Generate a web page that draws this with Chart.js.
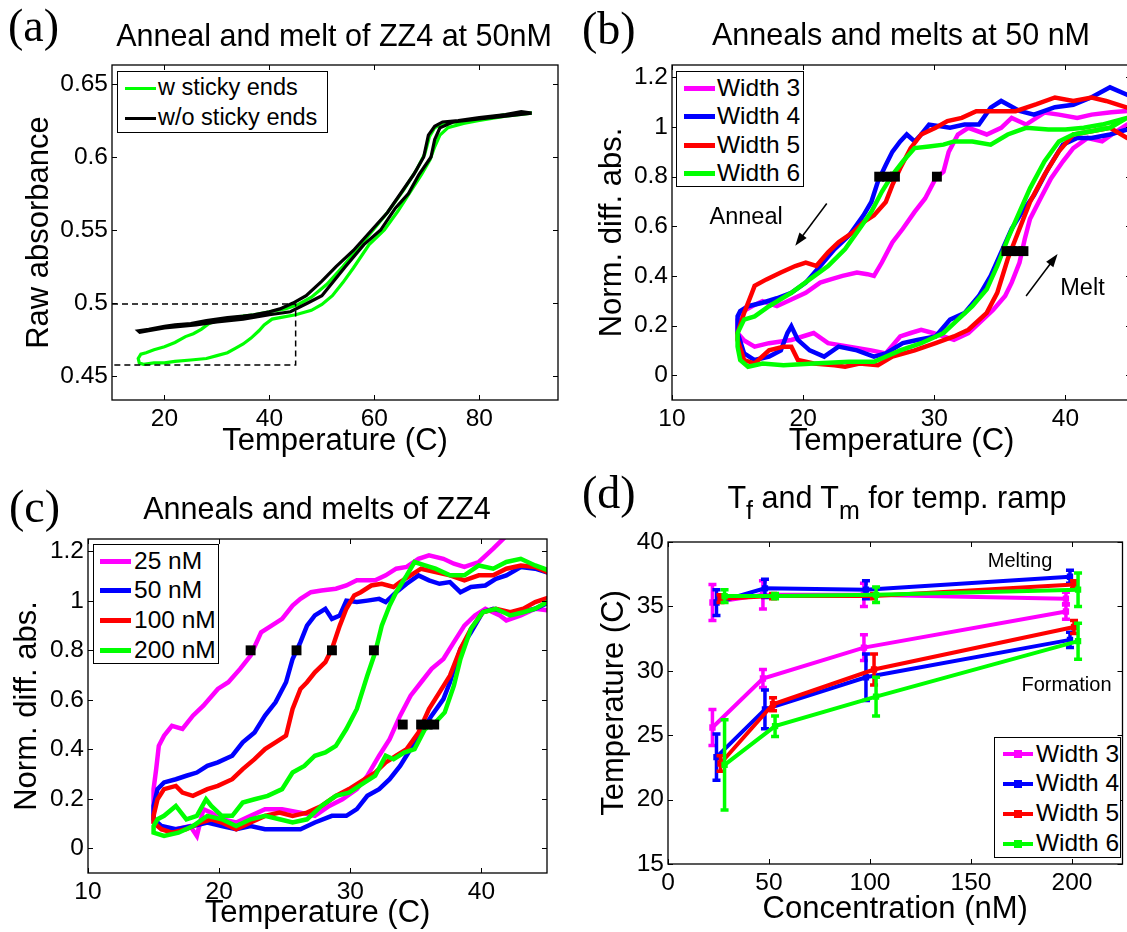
<!DOCTYPE html>
<html>
<head>
<meta charset="utf-8">
<script src="https://cdn.jsdelivr.net/npm/chart.js@4"></script>
<style>
html,body{margin:0;padding:0;overflow:hidden;background:#fff}
body{width:1127px;height:932px;position:relative;font-family:"Liberation Sans",Arial,sans-serif;color:#000}
.pane{position:absolute}
.lbl{position:absolute;font-family:"Liberation Serif","Times New Roman",serif;font-size:46px;line-height:1;white-space:nowrap}
.ttl{position:absolute;width:600px;font-size:30.5px;line-height:1;text-align:center;white-space:nowrap}
.ttl sub{font-size:25px;vertical-align:-0.45em;line-height:0}
.leg{position:absolute;border:1px solid #000;background:#fff;box-sizing:border-box}
.leg div{position:absolute;white-space:nowrap;line-height:1}
.note{position:absolute;white-space:nowrap;line-height:1;transform:translate(-50%,-50%)}
</style>
</head>
<body>
<div class="pane" id="pa"><canvas id="ca"></canvas></div>
<div class="pane" id="pb"><canvas id="cb"></canvas></div>
<div class="pane" id="pc"><canvas id="cc"></canvas></div>
<div class="pane" id="pd"><canvas id="cd"></canvas></div>

<div class="lbl" style="left:8px;top:3px">(a)</div>
<div class="lbl" style="left:582px;top:6px">(b)</div>
<div class="lbl" style="left:9px;top:484px">(c)</div>
<div class="lbl" style="left:582px;top:470px">(d)</div>

<div class="ttl" style="left:34px;top:20px">Anneal and melt of ZZ4 at 50nM</div>
<div class="ttl" style="left:601px;top:19px">Anneals and melts at 50 nM</div>
<div class="ttl" style="left:17px;top:493px">Anneals and melts of ZZ4</div>
<div class="ttl" style="left:597px;top:482px">T<sub>f</sub> and T<sub>m</sub> for temp. ramp</div>

<script>
// ---------- panel (a): raw absorbance, temperature vs absorbance (anneal then melt)
const aXTicks = [20, 40, 60, 80]
const aYTicks = [0.45, 0.5, 0.55, 0.6, 0.65]
const aYLabels = ['0.45', '0.5', '0.55', '0.6', '0.65']
const aNames = ['w sticky ends', 'w/o sticky ends']
const aSticky = [[90,.630],[85,.629],[80,.626],[76,.624],[73,.623],[71.5,.620],[70.5,.614],[69.6,.602],[68,.591],[65.5,.577],[62.5,.562],[60,.551],[57,.538],[54,.525],[51,.513],[48,.504],[45.5,.499],[43,.496],[40,.494],[37,.492],[35,.491],[32,.489],[30,.488],[28.5,.486],[27,.482],[25.5,.479],[24,.477],[22,.473],[20,.470],[18,.468],[16.5,.466],[15.5,.465],[15,.462],
  [15.2,.459],[16,.458],[18,.459],[20,.459],[22,.460],[25,.461],[28,.462],[30,.464],[32,.466],[33.5,.469],[35,.472],[36.5,.476],[38,.481],[39,.485],[40.5,.489],[42,.490],[45,.492],[48,.495],[50,.499],[52,.505],[54,.514],[56,.524],[59,.540],[61.9,.550],[64.5,.563],[67,.577],[69,.588],[70.6,.598],[71.5,.607],[72.5,.615],[74,.620],[77,.623],[80,.625],[85,.628],[90,.630]]
const aNoSticky = [[90,.630],[88,.631],[85,.629],[80,.627],[76,.625],[73,.624],[71.5,.621],[70.3,.615],[69.4,.600],[67.5,.588],[65,.575],[62.5,.562],[59.5,.550],[56,.536],[52.7,.525],[50,.515],[47,.505],[44.5,.500],[42,.496],[40,.494],[37,.492],[35,.491],[32,.490],[30,.489],[28,.488],[25,.486],[22,.485],[20,.484],[17,.482],[15,.481],
  [15.3,.480],[17,.481],[20,.483],[23,.484],[26,.485],[30,.487],[35,.489],[40,.492],[44,.494],[47.3,.500],[50,.505],[54.5,.525],[58,.540],[61.2,.550],[64,.565],[66.5,.575],[68.5,.588],[70.8,.600],[71.5,.612],[72.5,.620],[75,.624],[80,.626],[85,.628],[90,.630]]
const aZoomBox = [[10,.4993],[45,.4993],[45,.4575],[10,.4575]]

// ---------- panel (b): widths at 50 nM
const tTicks = [10, 20, 30, 40]
const nTicks = [0, 0.2, 0.4, 0.6, 0.8, 1, 1.2]
const nLabels = ['0', '0.2', '0.4', '0.6', '0.8', '1', '1.2']
const widthNames = ['Width 3', 'Width 4', 'Width 5', 'Width 6']
const bW3 = [[45.5,1.07],[44.7,1.065],[43.5,1.06],[42,1.05],[40.9,1.037],[39.5,1.05],[38.4,1.058],[37,1.01],[35.9,1.037],[35.1,0.997],[34,0.97],[32.6,0.997],[31.8,0.97],[31.1,0.90],[30.7,0.82],[30.1,0.793],[29.3,0.712],[28.5,0.658],[27.6,0.59],[26.8,0.535],[26,0.454],[25.4,0.40],[24.9,0.407],[24.1,0.414],[23,0.40],[22.1,0.386],[21.3,0.373],[20.2,0.332],[19.1,0.305],[18,0.278],[16.9,0.298],[16.1,0.278],[15.2,0.25],[15,0.224],
  [15,0.17],[15.5,0.14],[16.3,0.115],[17.4,0.129],[19.1,0.142],[20.2,0.16],[20.8,0.17],[21.9,0.129],[23.5,0.115],[25.2,0.10],[26.3,0.088],[27.4,0.156],[28.2,0.17],[29,0.183],[29.9,0.17],[30.7,0.156],[31.5,0.142],[32.6,0.17],[33.7,0.224],[34.5,0.264],[35.4,0.319],[35.9,0.373],[36.5,0.454],[36.9,0.549],[37.3,0.63],[38.1,0.712],[38.9,0.793],[39.8,0.861],[40.6,0.915],[41.7,0.956],[42.8,0.942],[43.9,0.983],[44.7,1.01],[45.5,1.02]]
const bW4 = [[45.5,1.11],[44.7,1.13],[43.4,1.16],[42,1.12],[40.6,1.09],[39.2,1.08],[37.6,1.05],[36.5,1.065],[35.1,1.105],[34.3,1.078],[33.4,1.01],[32.3,1.01],[31.2,0.997],[29.6,1.01],[29,0.97],[28.5,0.942],[27.9,0.97],[27.4,0.942],[26.8,0.90],[26.3,0.847],[25.7,0.78],[25.2,0.698],[24.6,0.644],[23.5,0.563],[22.4,0.508],[21.3,0.44],[20.2,0.373],[19.1,0.332],[18,0.31],[16.9,0.292],[15.8,0.278],[15.2,0.258],[15,0.237],
  [15,0.17],[15.5,0.088],[16.3,0.061],[17.4,0.075],[18.3,0.10],[18.8,0.17],[19.1,0.197],[19.6,0.142],[20.5,0.10],[21.6,0.075],[22.7,0.115],[24.1,0.10],[25.4,0.075],[26.3,0.088],[27.6,0.129],[28.7,0.142],[30.1,0.156],[31.2,0.224],[32.3,0.25],[33.4,0.319],[34.3,0.40],[35.1,0.495],[35.9,0.59],[36.7,0.658],[37.6,0.725],[38.7,0.834],[39.8,0.929],[40.9,0.956],[42,0.956],[43.4,0.97],[44.7,0.99],[45.5,1.0]]
const bW5 = [[45.5,1.07],[44.7,1.078],[43.1,1.105],[42,1.119],[40.6,1.105],[39.2,1.119],[37.8,1.092],[36.2,1.064],[34.5,1.064],[33.2,1.064],[32.1,1.037],[31,1.024],[30.1,0.997],[29,0.97],[28.2,0.915],[27.4,0.834],[26.8,0.766],[26.3,0.698],[25.4,0.644],[24.6,0.617],[23.8,0.576],[22.7,0.536],[21.9,0.495],[21,0.44],[20.2,0.454],[19.4,0.44],[18.3,0.414],[17.2,0.386],[16.3,0.36],[16.1,0.332],[15.5,0.251],[15,0.17],
  [15,0.142],[15.5,0.061],[16.3,0.047],[17.4,0.10],[18.5,0.115],[19.1,0.115],[19.6,0.061],[20.8,0.047],[22.4,0.04],[23.2,0.034],[24.3,0.047],[25.7,0.04],[26.8,0.075],[28.5,0.10],[30.1,0.129],[31.5,0.156],[32.6,0.183],[34,0.251],[34.8,0.332],[35.6,0.468],[36.5,0.59],[37.3,0.698],[38.4,0.807],[39.5,0.902],[40.6,0.97],[42,0.983],[43.4,0.997],[44.7,0.956],[45.5,0.94]]
const bW6 = [[45.5,1.05],[44.7,1.037],[42.8,1.01],[41.4,0.997],[40,0.99],[38.7,0.99],[37,0.997],[35.6,0.97],[34.3,0.929],[32.9,0.942],[31.5,0.942],[30.7,0.929],[29.6,0.922],[28.5,0.915],[27.6,0.861],[26.8,0.807],[26,0.739],[25.2,0.658],[24.3,0.59],[23.2,0.508],[21.9,0.44],[20.5,0.386],[19.1,0.332],[17.4,0.278],[16.3,0.237],[15.5,0.224],[15,0.17],
  [15,0.115],[15.2,0.061],[15.8,0.034],[16.9,0.047],[18.5,0.04],[20.8,0.047],[23.5,0.054],[25.4,0.054],[27.4,0.10],[29,0.129],[30.7,0.17],[31.8,0.224],[32.9,0.278],[34,0.346],[34.8,0.44],[35.6,0.549],[36.5,0.658],[37.3,0.753],[38.4,0.861],[39.5,0.942],[40.6,0.97],[42,0.983],[43.4,0.997],[44.7,1.037],[45.5,1.06]]
const bMarkT = [25.8, 26.4, 27.0, 30.2, 35.5, 35.9, 36.4, 36.8]
const bMarkY = [0.8, 0.8, 0.8, 0.8, 0.5, 0.5, 0.5, 0.5]
const bAnnealArrow = [[21.8, 0.692], [19.4, 0.522]]
const bMeltArrow = [[37.0, 0.319], [39.4, 0.488]]

// ---------- panel (c): width 4 at four concentrations
const concNames = ['25 nM', '50 nM', '100 nM', '200 nM']
const c25 = [[43,1.33],[41.8,1.258],[40.9,1.211],[39.8,1.157],[38.7,1.137],[37.9,1.15],[37.1,1.17],[36,1.184],[35.2,1.17],[34.3,1.137],[33.5,1.13],[32.7,1.103],[31.9,1.083],[30.5,1.083],[29.7,1.062],[28.9,1.049],[27.8,1.042],[27,1.035],[26.2,1.008],[25.6,0.981],[24.8,0.927],[24,0.90],[23.2,0.873],[22.4,0.779],[21.6,0.725],[20.7,0.671],[19.9,0.644],[18.8,0.576],[18,0.536],[17.2,0.482],[16.4,0.495],[15.8,0.455],[15.4,0.414],[15.2,0.32],[15,0.239],
  [15,0.104],[15.6,0.077],[16.7,0.077],[17.8,0.09],[18.3,0.05],[18.8,0.158],[19.4,0.144],[20.2,0.117],[21.3,0.104],[22.4,0.131],[23.5,0.158],[24.8,0.158],[26.2,0.144],[27.3,0.131],[28.4,0.171],[29.4,0.198],[30.5,0.239],[31.3,0.293],[32.2,0.374],[33,0.441],[33.8,0.536],[34.6,0.617],[35.4,0.671],[36.2,0.725],[37.1,0.765],[37.9,0.833],[38.7,0.90],[39.5,0.941],[40.3,0.968],[41.4,0.941],[41.9,0.921],[43,0.941],[44.1,0.968],[45.2,0.961]]
const c50 = [[45.3,1.11],[44.1,1.13],[43,1.137],[41.9,1.103],[41.1,1.089],[40.3,1.062],[39.2,1.056],[38.4,1.035],[37.6,1.076],[36.8,1.069],[36,1.083],[35.2,1.103],[34.3,1.069],[33.5,1.035],[32.7,0.995],[32.2,1.008],[31.3,1.001],[30.5,0.995],[29.7,1.001],[29.2,0.941],[28.6,0.927],[28.1,0.968],[27.3,0.941],[26.7,0.90],[26.2,0.833],[25.6,0.765],[25.1,0.671],[24.3,0.59],[23.5,0.536],[22.7,0.468],[21.8,0.428],[21,0.374],[19.9,0.347],[19.1,0.333],[18.3,0.306],[17.5,0.293],[16.7,0.279],[15.8,0.266],[15.3,0.239],[15,0.171],
  [15,0.117],[15.6,0.09],[16.7,0.077],[18,0.09],[19.1,0.104],[20.2,0.09],[21.3,0.077],[22.4,0.09],[23.5,0.077],[24.8,0.077],[26.2,0.077],[27.3,0.104],[28.6,0.131],[29.7,0.131],[30.5,0.158],[31.3,0.212],[32.2,0.239],[33,0.279],[33.8,0.333],[34.6,0.401],[35.4,0.468],[36.2,0.536],[37.1,0.603],[37.6,0.671],[38.4,0.806],[39.2,0.873],[40.1,0.954],[40.9,0.968],[41.9,0.954],[43,0.954],[44.1,0.968],[45.2,0.995]]
const c100 = [[45.3,1.11],[44.1,1.137],[43,1.143],[41.9,1.13],[40.9,1.103],[39.8,1.103],[38.7,1.083],[37.6,1.103],[36.5,1.116],[35.4,1.13],[34.6,1.103],[33.8,1.076],[33.3,1.056],[32.4,1.069],[31.6,1.062],[30.8,1.035],[30.3,1.022],[29.7,0.968],[29.2,0.90],[28.6,0.806],[28.1,0.752],[27.3,0.711],[26.7,0.671],[26.2,0.644],[25.6,0.563],[25.1,0.455],[24.3,0.428],[23.5,0.401],[22.7,0.36],[21.8,0.32],[21,0.279],[19.9,0.252],[19.1,0.239],[18,0.212],[17.2,0.225],[16.7,0.252],[15.8,0.239],[15.3,0.198],[15,0.131],
  [15,0.104],[15.6,0.077],[16.4,0.063],[17.5,0.077],[18.6,0.104],[19.4,0.117],[20.2,0.104],[21.3,0.077],[22.4,0.104],[23.5,0.131],[24.6,0.144],[25.6,0.131],[26.7,0.144],[27.8,0.171],[28.9,0.212],[29.9,0.239],[31.1,0.279],[31.9,0.306],[32.7,0.347],[33.5,0.374],[34.3,0.401],[35.2,0.468],[36,0.563],[36.8,0.63],[37.6,0.698],[38.4,0.806],[39.2,0.887],[40.1,0.954],[41.1,0.968],[42.2,0.954],[43.2,0.968],[44.1,0.995],[45.2,1.015]]
const c200 = [[45.3,1.12],[44.1,1.143],[43,1.17],[41.9,1.157],[40.9,1.13],[39.8,1.143],[38.7,1.103],[37.6,1.103],[36.5,1.13],[35.7,1.143],[34.9,1.157],[34.3,1.103],[33.5,1.035],[33,0.981],[32.4,0.90],[31.9,0.792],[31.3,0.698],[30.5,0.563],[29.7,0.482],[28.9,0.414],[28.1,0.387],[27.3,0.374],[26.5,0.333],[25.6,0.306],[24.8,0.239],[23.7,0.212],[22.7,0.198],[21.8,0.185],[21,0.131],[20.2,0.131],[19.4,0.171],[19,0.198],[18.3,0.131],[17.5,0.117],[16.7,0.171],[15.8,0.131],[15.3,0.117],[15,0.09],
  [15,0.063],[15.8,0.05],[16.9,0.063],[18,0.09],[19.1,0.131],[20.2,0.117],[21.3,0.09],[22.4,0.117],[23.5,0.131],[24.6,0.117],[25.6,0.104],[26.7,0.117],[27.8,0.171],[28.9,0.212],[29.9,0.225],[31.1,0.266],[31.9,0.293],[32.7,0.374],[33.3,0.36],[34.1,0.387],[34.9,0.401],[35.7,0.482],[36.5,0.509],[37.2,0.549],[37.9,0.657],[38.4,0.765],[39.2,0.887],[40.1,0.954],[41.1,0.968],[42.2,0.941],[43.2,0.954],[44.1,0.968],[45.2,1.001]]
const cMarkT = [22.4, 25.9, 28.6, 31.8, 34.0, 35.4, 35.9, 36.4]
const cMarkY = [0.8, 0.8, 0.8, 0.8, 0.5, 0.5, 0.5, 0.5]

// ---------- panel (d): Tf and Tm vs concentration (small x offsets per width)
const dXTicks = [0, 50, 100, 150, 200]
const dYTicks = [15, 20, 25, 30, 35, 40]
const dConc3 = [22, 47, 97, 197]
const dConc4 = [24, 48, 98, 199]
const dConc5 = [26, 52, 102, 201]
const dConc6 = [28, 53, 103, 203]
const dMelt3 = [35.3, 35.9, 35.9, 35.6], dMelt3Err = [1.4, 1.1, 0.9, 0.5]
const dMelt4 = [35.3, 36.4, 36.3, 37.3], dMelt4Err = [1.0, 0.7, 0.7, 0.5]
const dMelt5 = [35.6, 35.8, 35.8, 36.7], dMelt5Err = [0.3, 0.2, 0.2, 0.3]
const dMelt6 = [35.8, 35.8, 35.9, 36.3], dMelt6Err = [0.5, 0.2, 0.6, 1.3]
const dForm3 = [25.6, 29.4, 31.8, 34.6], dForm3Err = [1.4, 0.7, 1.0, 0.6]
const dForm4 = [23.3, 27.0, 29.5, 32.4], dForm4Err = [1.8, 1.5, 1.8, 0.6]
const dForm5 = [22.8, 27.4, 30.1, 33.4], dForm5Err = [0.6, 0.5, 1.2, 0.5]
const dForm6 = [22.7, 25.7, 28.0, 32.3], dForm6Err = [3.5, 0.8, 1.5, 1.4]

const colors = ['#ff00ff', '#0000ff', '#ff0000', '#00ff00']
const FONT = '"Liberation Sans", Arial, sans-serif'
const TICK_SIZE = 24.5
const TITLE_SIZE = 31

function pts(pairs) { return pairs.map(p => ({x: p[0], y: p[1]})) }
function zip(xs, ys) { return xs.map((x, i) => ({x: x, y: ys[i]})) }

// matlab style box with inward ticks on all four sides
const boxPlugin = {
  id: 'mbox',
  afterDatasetsDraw(chart) {
    const {ctx, chartArea: a, scales: {x, y}} = chart
    ctx.save()
    ctx.strokeStyle = '#000'
    ctx.lineWidth = 1.3
    ctx.strokeRect(a.left, a.top, a.right - a.left, a.bottom - a.top)
    ctx.lineWidth = 1
    ctx.beginPath()
    x.ticks.forEach(t => {
      const px = Math.round(x.getPixelForValue(t.value)) + 0.5
      ctx.moveTo(px, a.bottom); ctx.lineTo(px, a.bottom - 5)
      ctx.moveTo(px, a.top); ctx.lineTo(px, a.top + 5)
    })
    y.ticks.forEach(t => {
      const py = Math.round(y.getPixelForValue(t.value)) + 0.5
      ctx.moveTo(a.left, py); ctx.lineTo(a.left + 5, py)
      ctx.moveTo(a.right, py); ctx.lineTo(a.right - 5, py)
    })
    ctx.stroke()
    ctx.restore()
  }
}

const errPlugin = {
  id: 'errbars',
  afterDatasetDraw(chart, args) {
    const ds = chart.data.datasets[args.index]
    if (!ds.err) return
    const {ctx, scales: {x, y}} = chart
    ctx.save()
    ctx.strokeStyle = ds.borderColor
    ctx.lineWidth = 3.5
    ds.data.forEach((p, i) => {
      const px = x.getPixelForValue(p.x)
      const lo = y.getPixelForValue(p.y - ds.err[i]), hi = y.getPixelForValue(p.y + ds.err[i])
      ctx.beginPath()
      ctx.moveTo(px, lo); ctx.lineTo(px, hi)
      ctx.moveTo(px - 4, lo); ctx.lineTo(px + 4, lo)
      ctx.moveTo(px - 4, hi); ctx.lineTo(px + 4, hi)
      ctx.stroke()
    })
    ctx.restore()
  }
}

const arrowPlugin = {
  id: 'arrows',
  afterDatasetsDraw(chart) {
    const {ctx, scales: {x, y}} = chart
    ;[bAnnealArrow, bMeltArrow].forEach(a => {
      const x0 = x.getPixelForValue(a[0][0]), y0 = y.getPixelForValue(a[0][1])
      const x1 = x.getPixelForValue(a[1][0]), y1 = y.getPixelForValue(a[1][1])
      const ang = Math.atan2(y1 - y0, x1 - x0), c = Math.cos(ang), s = Math.sin(ang)
      ctx.save()
      ctx.strokeStyle = '#000'; ctx.fillStyle = '#000'; ctx.lineWidth = 1.5
      ctx.beginPath(); ctx.moveTo(x0, y0); ctx.lineTo(x1 - 8 * c, y1 - 8 * s); ctx.stroke()
      ctx.beginPath()
      ctx.moveTo(x1, y1)
      ctx.lineTo(x1 - 13 * c + 4.5 * s, y1 - 13 * s - 4.5 * c)
      ctx.lineTo(x1 - 13 * c - 4.5 * s, y1 - 13 * s + 4.5 * c)
      ctx.closePath(); ctx.fill()
      ctx.restore()
    })
  }
}

// box = container [left, top, w, h]; area = wanted plot area [l, t, r, b]
function panel(canvasId, p) {
  const half = TITLE_SIZE * 1.2 / 2
  const xH = p.xTitleY + half - p.area[3]
  const pane = document.getElementById(canvasId).parentNode
  pane.style.left = p.box[0] + 'px'; pane.style.top = p.box[1] + 'px'
  pane.style.width = p.box[2] + 'px'; pane.style.height = p.box[3] + 'px'
  const tickFont = {family: FONT, size: TICK_SIZE}
  const titleFont = {family: FONT, size: TITLE_SIZE}
  return new Chart(document.getElementById(canvasId), {
    type: 'line',
    data: {datasets: p.datasets},
    options: {
      responsive: true,
      maintainAspectRatio: false,
      animation: false,
      layout: {padding: {
        left: 0,
        top: p.area[1] - p.box[1],
        right: p.box[0] + p.box[2] - p.area[2],
        bottom: p.box[1] + p.box[3] - p.area[3] - xH
      }},
      plugins: {legend: {display: false}, tooltip: {enabled: false}},
      elements: {point: {radius: 0}, line: {tension: 0}},
      scales: {
        x: {
          type: 'linear', min: p.xRange[0], max: p.xRange[1],
          grid: {display: false, drawTicks: false}, border: {display: false},
          afterBuildTicks: s => { s.ticks = p.xTicks.map(v => ({value: v})) },
          afterFit: s => { s.height = xH },
          ticks: {autoSkip: false, maxRotation: 0, padding: 5, color: '#000', font: tickFont,
                  callback: (v, i) => p.xLabels[i]},
          title: {display: true, text: p.xTitle, color: '#000', font: titleFont, padding: {top: 0, bottom: 0}}
        },
        y: {
          type: 'linear', min: p.yRange[0], max: p.yRange[1],
          grid: {display: false, drawTicks: false}, border: {display: false},
          afterBuildTicks: s => { s.ticks = p.yTicks.map(v => ({value: v})) },
          afterFit: s => { s.width = p.area[0] - p.box[0] },
          ticks: {autoSkip: false, padding: 4, color: '#000', font: tickFont,
                  callback: (v, i) => p.yLabels[i]},
          title: {display: true, text: p.yTitle, color: '#000', font: titleFont,
                  padding: {top: p.yTitleX - p.box[0] - half, bottom: 0}}
        }
      }
    },
    plugins: [errPlugin, boxPlugin].concat(p.extra || [])
  })
}

function loopSet(pairs, color, width, order) {
  return {data: pts(pairs), borderColor: color, borderWidth: width, pointRadius: 0, fill: false, order: order}
}
function markSet(xs, ys) {
  return {data: zip(xs, ys), showLine: false, pointStyle: 'rect', pointRadius: 7,
          pointBackgroundColor: '#000', pointBorderWidth: 0, order: 0}
}
function tSet(xs, ys, err, color, order) {
  return {data: zip(xs, ys), err: err, borderColor: color, borderWidth: 4, pointStyle: 'rect',
          pointRadius: 4.5, pointBackgroundColor: color, pointBorderColor: color, pointBorderWidth: 0, order: order}
}

const chartA = panel('ca', {
  box: [0, 0, 562, 470], area: [112, 65, 558, 400], yTitleX: 39, xTitleY: 441,
  xRange: [10, 95], yRange: [0.4336, 0.663],
  xTicks: aXTicks, xLabels: aXTicks.map(String), yTicks: aYTicks, yLabels: aYLabels,
  xTitle: 'Temperature (C)', yTitle: 'Raw absorbance',
  datasets: [
    {data: pts(aZoomBox), borderColor: '#000', borderWidth: 1.5, borderDash: [6, 4], pointRadius: 0, order: 0},
    loopSet(aNoSticky, '#000', 3.2, 1),
    loopSet(aSticky, '#00ff00', 3.2, 2)
  ]
})

const chartB = panel('cb', {
  box: [562, 0, 580, 470], area: [672, 65, 1131, 400], yTitleX: 612, xTitleY: 441,
  xRange: [10, 45], yRange: [-0.1, 1.25],
  xTicks: tTicks, xLabels: tTicks.map(String), yTicks: nTicks, yLabels: nLabels,
  xTitle: 'Temperature (C)', yTitle: 'Norm. diff. abs.',
  datasets: [
    markSet(bMarkT, bMarkY),
    loopSet(bW6, colors[3], 4.5, 1),
    loopSet(bW5, colors[2], 4.5, 2),
    loopSet(bW4, colors[1], 4.5, 3),
    loopSet(bW3, colors[0], 4.5, 4)
  ],
  extra: [arrowPlugin]
})

const chartC = panel('cc', {
  box: [0, 470, 562, 462], area: [88, 539, 547, 873], yTitleX: 27, xTitleY: 913,
  xRange: [10, 45], yRange: [-0.1, 1.25],
  xTicks: tTicks, xLabels: tTicks.map(String), yTicks: nTicks, yLabels: nLabels,
  xTitle: 'Temperature (C)', yTitle: 'Norm. diff. abs.',
  datasets: [
    markSet(cMarkT, cMarkY),
    loopSet(c200, colors[3], 4.5, 1),
    loopSet(c100, colors[2], 4.5, 2),
    loopSet(c50, colors[1], 4.5, 3),
    loopSet(c25, colors[0], 4.5, 4)
  ]
})

const chartD = panel('cd', {
  box: [562, 470, 565, 462], area: [668, 542, 1125, 864], yTitleX: 614, xTitleY: 909,
  xRange: [0, 225], yRange: [15, 40],
  xTicks: dXTicks, xLabels: dXTicks.map(String), yTicks: dYTicks, yLabels: dYTicks.map(String),
  xTitle: 'Concentration (nM)', yTitle: 'Temperature (C)',
  datasets: [
    tSet(dConc6, dMelt6, dMelt6Err, colors[3], 1), tSet(dConc6, dForm6, dForm6Err, colors[3], 1),
    tSet(dConc5, dMelt5, dMelt5Err, colors[2], 2), tSet(dConc5, dForm5, dForm5Err, colors[2], 2),
    tSet(dConc4, dMelt4, dMelt4Err, colors[1], 3), tSet(dConc4, dForm4, dForm4Err, colors[1], 3),
    tSet(dConc3, dMelt3, dMelt3Err, colors[0], 4), tSet(dConc3, dForm3, dForm3Err, colors[0], 4)
  ]
})

// legends (html, inside the plot boxes)
function legend(left, top, w, h, names, cols, rows, fsize, sw, textX, lw, marker) {
  const box = document.createElement('div')
  box.className = 'leg'
  Object.assign(box.style, {left: left + 'px', top: top + 'px', width: w + 'px', height: h + 'px'})
  names.forEach((n, i) => {
    const ln = document.createElement('div')
    Object.assign(ln.style, {left: sw[0] + 'px', width: (sw[1] - sw[0]) + 'px', top: (rows[i] - lw / 2) + 'px',
                             height: lw + 'px', background: cols[i]})
    box.appendChild(ln)
    if (marker) {
      const mk = document.createElement('div')
      const c = (sw[0] + sw[1]) / 2
      Object.assign(mk.style, {left: (c - 4) + 'px', width: '8px', top: (rows[i] - 4) + 'px', height: '8px', background: cols[i]})
      box.appendChild(mk)
    }
    const tx = document.createElement('div')
    tx.textContent = n
    Object.assign(tx.style, {left: textX + 'px', top: (rows[i] - fsize * 0.5) + 'px', fontSize: fsize + 'px'})
    box.appendChild(tx)
  })
  document.body.appendChild(box)
}
legend(117, 71, 211, 62, aNames, ['#00ff00', '#000'], [16, 46], 23.5, [7, 38], 40, 3, false)
legend(676, 71, 128, 116, widthNames, colors, [16, 44, 73, 101], 24.5, [7, 38], 40, 5, false)
legend(93, 544, 126, 120, concNames, colors, [16, 45, 75, 105], 24.5, [6, 37], 40, 5, false)
legend(994, 737, 127, 121, widthNames, colors, [16, 45.5, 75.5, 105.5], 24.5, [8, 38], 41, 4, true)

// text notes placed in data coordinates
function note(chart, box, xv, yv, text, size) {
  const d = document.createElement('div')
  d.className = 'note'
  d.textContent = text
  d.style.fontSize = size + 'px'
  d.style.left = (box[0] + chart.scales.x.getPixelForValue(xv)) + 'px'
  d.style.top = (box[1] + chart.scales.y.getPixelForValue(yv)) + 'px'
  document.body.appendChild(d)
}
note(chartB, [562, 0], 15.65, 0.637, 'Anneal', 23.5)
note(chartB, [562, 0], 41.3, 0.353, 'Melt', 23.5)
note(chartD, [562, 470], 174.3, 38.6, 'Melting', 20)
note(chartD, [562, 470], 197.3, 29.0, 'Formation', 20)
</script>
</body>
</html>
